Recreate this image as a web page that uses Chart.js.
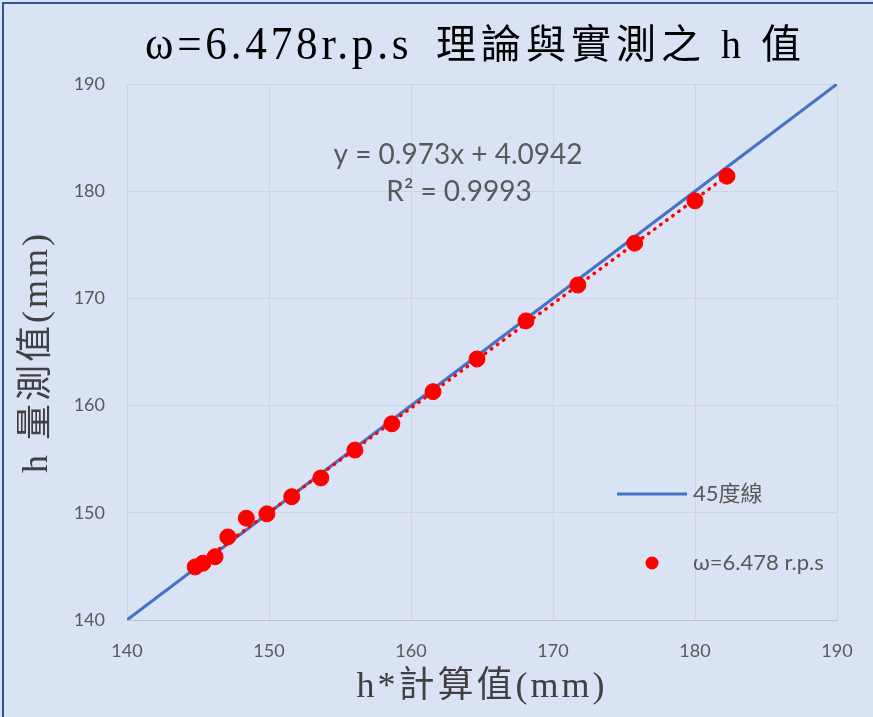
<!DOCTYPE html>
<html>
<head>
<meta charset="utf-8">
<script src="https://cdn.jsdelivr.net/npm/chart.js@4.4.1/dist/chart.umd.min.js"></script>
<style>
  body { margin: 0; background: #dae3f3; }
  canvas { display: block; }
</style>
</head>
<body>
<canvas id="myChart" width="873" height="717"></canvas>
<script>
// h* 計算值 (x) and h 量測值 (y)
let calcH = [144.8, 145.35, 146.2, 147.1, 148.4, 149.85, 151.6, 153.65, 156.05, 158.65, 161.55, 164.65, 168.1, 171.75, 175.75, 180.0, 182.25]
let measH = [144.95, 145.3, 145.9, 147.75, 149.5, 149.9, 151.5, 153.25, 155.85, 158.3, 161.3, 164.35, 167.9, 171.25, 175.15, 179.1, 181.4]

// 45度線
let diagX = [140, 190]
let diagY = [140, 190]

// trendline from the equation shown on the chart
let slope = 0.973
let intercept = 4.0942
let eqText = "y = 0.973x + 4.0942"
let r2Text = "R² = 0.9993"

let axisMin = 140
let axisMax = 190
let axisStep = 10

let titleLatin = "ω=6.478r.p.s"
let titleCJK = "理論與實測之 h 值"
let xTitle = "h*計算值(mm)"
let yTitle = "h 量測值(mm)"
let seriesNames = ["45度線", "ω=6.478 r.p.s"]

const sans = "Lato, 'Noto Sans CJK TC', sans-serif"
const serif = "'Liberation Serif', 'Noto Sans CJK TC', serif"

function graficaH() {
  const xMinData = Math.min(...calcH)
  const xMaxData = Math.max(...calcH)
  const trend = [
    { x: xMinData, y: slope * xMinData + intercept },
    { x: xMaxData, y: slope * xMaxData + intercept }
  ]

  const data = {
    datasets: [
      {
        label: seriesNames[0],
        type: 'line',
        data: diagX.map((v, i) => ({ x: v, y: diagY[i] })),
        borderColor: '#4472c4',
        borderWidth: 3,
        pointRadius: 0,
        order: 3
      },
      {
        label: 'trend',
        type: 'line',
        data: trend,
        borderColor: '#ff0000',
        borderWidth: 3.5,
        borderDash: [0.5, 7],
        borderCapStyle: 'round',
        pointRadius: 0,
        order: 2
      },
      {
        label: seriesNames[1],
        type: 'scatter',
        data: calcH.map((v, i) => ({ x: v, y: measH[i] })),
        backgroundColor: '#ff0000',
        borderColor: '#ff0000',
        pointRadius: 8,
        order: 1
      }
    ]
  }

  const extras = {
    id: 'extras',
    afterDraw(chart) {
      const ctx = chart.ctx
      const ca = chart.chartArea
      ctx.save()
      // outer border
      ctx.strokeStyle = '#2f5597'
      ctx.lineWidth = 2
      ctx.strokeRect(3, 3, 880, 720)

      // title: condensed latin part + spaced CJK part
      ctx.fillStyle = '#000'
      ctx.textBaseline = 'middle'
      ctx.textAlign = 'left'
      ctx.save()
      ctx.translate(145, 47)
      ctx.scale(1.08, 1.15)
      ctx.font = "40px " + serif
      ctx.letterSpacing = "3.5px"
      ctx.fillText(titleLatin, 0, 0)
      ctx.restore()
      ctx.font = "40px " + serif
      ctx.letterSpacing = "5px"
      ctx.fillText(titleCJK, 436, 47)
      ctx.letterSpacing = "0px"

      // axis titles
      ctx.textAlign = 'center'
      ctx.font = "36px " + serif
      ctx.fillStyle = '#404040'
      ctx.letterSpacing = "3px"
      ctx.fillText(xTitle, (ca.left + ca.right) / 2, 688)
      ctx.save()
      ctx.translate(38, (ca.top + ca.bottom) / 2)
      ctx.rotate(-Math.PI / 2)
      ctx.fillText(yTitle, 0, 0)
      ctx.restore()
      ctx.letterSpacing = "0px"

      // equation
      ctx.fillStyle = '#595959'
      ctx.font = "28px " + sans
      ctx.fillText(eqText, 458, 155)
      ctx.fillText(r2Text, 459, 192)

      // legend
      ctx.strokeStyle = '#4472c4'
      ctx.lineWidth = 3
      ctx.beginPath()
      ctx.moveTo(617, 494)
      ctx.lineTo(687, 494)
      ctx.stroke()
      ctx.fillStyle = '#ff0000'
      ctx.beginPath()
      ctx.arc(652, 563, 6.5, 0, Math.PI * 2)
      ctx.fill()
      ctx.fillStyle = '#595959'
      ctx.textAlign = 'left'
      ctx.font = "22px " + sans
      ctx.fillText(seriesNames[0], 693, 494)
      ctx.fillText(seriesNames[1], 693, 563)
      ctx.restore()
    }
  }

  const tickStyle = {
    color: '#595959',
    font: { family: sans, size: 18 },
    stepSize: axisStep
  }

  const config = {
    type: 'scatter',
    data: data,
    options: {
      responsive: false,
      animation: false,
      layout: { padding: { top: 84, right: 36, left: 0, bottom: 0 } },
      plugins: {
        legend: { display: false },
        title: { display: false },
        tooltip: { enabled: false }
      },
      scales: {
        x: {
          type: 'linear',
          min: axisMin,
          max: axisMax,
          ticks: { ...tickStyle, padding: 20 },
          grid: { color: '#d0d4dc', drawTicks: false },
          border: { color: '#bfbfbf' },
          afterFit: s => { s.height = 97 }
        },
        y: {
          type: 'linear',
          min: axisMin,
          max: axisMax,
          ticks: { ...tickStyle, padding: 22 },
          grid: { color: '#d0d4dc', drawTicks: false },
          border: { display: false },
          afterFit: s => { s.width = 127 }
        }
      }
    },
    plugins: [extras]
  }

  let myChart = new Chart(document.getElementById('myChart'), config)
}

graficaH()
</script>
</body>
</html>
